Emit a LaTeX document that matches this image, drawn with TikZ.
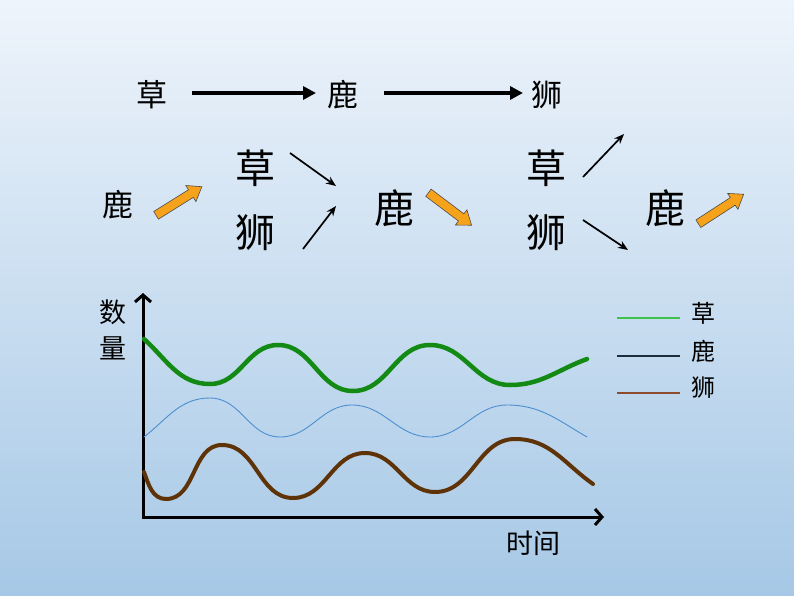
\documentclass[tikz,border=0pt]{standalone}
\usepackage{fontspec}
\setmainfont{Noto Sans CJK SC}
\usetikzlibrary{arrows.meta}

\definecolor{bgtop}{HTML}{EEF4FB}
\definecolor{bgmid}{HTML}{C9DDF1}
\definecolor{bgbot}{HTML}{A6C8E6}
\definecolor{grasscol}{HTML}{138A14}
\definecolor{deercol}{HTML}{4C8FD0}
\definecolor{lioncol}{HTML}{5E3308}
\definecolor{boostcol}{HTML}{F7A21B}
\definecolor{keygrass}{HTML}{3FC24A}
\definecolor{keydeer}{HTML}{1E2D3C}
\definecolor{keylion}{HTML}{8E4C2C}

% block arrow: centre, angle
\newcommand{\boostarrow}[2]{%
  \begin{scope}[shift={#1},rotate=#2]
    \filldraw[draw=black!70,fill=boostcol,line width=0.6pt,line join=miter]
      (-27,-4.5) -- (14,-4.5) -- (14,-9.5) -- (27,0) -- (14,9.5) -- (14,4.5)
      -- (-27,4.5) -- cycle;
  \end{scope}}

\begin{document}
\begin{tikzpicture}[x=1pt,y=-1pt,
    word/.style={inner sep=0pt,font=\fontsize{31}{31}\selectfont},
    bigword/.style={inner sep=0pt,font=\fontsize{40}{40}\selectfont},
    keyword/.style={inner sep=0pt,font=\fontsize{24}{24}\selectfont},
    chain/.style={line width=4pt,-{Triangle[length=13pt,width=13pt]}},
    tilt/.style={line width=1.7pt,-{Stealth[length=10pt,width=8pt]}},
    curve/.style={line cap=round}]
  \shade[top color=bgtop,middle color=bgmid,bottom color=bgbot]
    (0,0) rectangle (794,596);

  % food chain
  \node[word] (g1) at (152,95) {草};
  \node[word] (d1) at (343,95) {鹿};
  \node[word] (l1) at (547,95) {狮};
  \draw[chain] (g1) ++(40,-2) coordinate (c1) -- (316,93) coordinate (c2);
  \draw[chain] (384,93) coordinate (c3) -- (523,93) coordinate (c4);

  % deer goes up
  \node[word] (d2) at (118,205) {鹿};
  \boostarrow{(179,201)}{32}
  \node[bigword] (g2) at (255,168) {草};
  \node[bigword] (l2) at (255,233) {狮};
  \coordinate (t1) at (290,153);
  \coordinate (t2) at (336,186);
  \coordinate (t3) at (303,249);
  \coordinate (t4) at (336,206);
  \draw[tilt] (t1) -- (t2);
  \draw[tilt] (t3) -- (t4);
  \node[bigword] (d3) at (394,208) {鹿};
  \boostarrow{(450,209)}{-37}
  \node[bigword] (g3) at (546,168) {草};
  \node[bigword] (l3) at (546,233) {狮};
  \coordinate (t5) at (583,177);
  \coordinate (t6) at (624,134);
  \coordinate (t7) at (583,220);
  \coordinate (t8) at (628,250);
  \draw[tilt] (t5) -- (t6);
  \draw[tilt] (t7) -- (t8);
  \node[bigword] (d4) at (665,208) {鹿};
  \boostarrow{(721,209)}{33}

  % axes
  \coordinate (O) at (143,517);
  \coordinate (ytip) at (143,293);
  \coordinate (xtip) at (604,517);
  \draw[line width=3pt,{Straight Barb[length=7pt,width=16pt]}-{Straight Barb[length=7pt,width=16pt]}]
    (ytip) -- (O) -- (xtip);
  \node[word,font=\fontsize{27}{27}\selectfont] (ylab1) at (113,312) {数};
  \node[word,font=\fontsize{27}{27}\selectfont] (ylab2) at (113,348) {量};
  \node[word,font=\fontsize{27}{27}\selectfont] (xlab) at (533,543) {时间};

  % curves
  \draw[curve,grasscol,line width=4.5pt] (144,339) to[out=-42,in=180] (210,384)
    to[out=0,in=180] (278,345) to[out=0,in=180] (353,391)
    to[out=0,in=180] (430,345) to[out=0,in=180] (510,385)
    to[out=0,in=200] (587,359);
  \draw[curve,deercol,line width=0.9pt] (144,437) to[out=38,in=180] (210,398)
    to[out=0,in=180] (280,437) to[out=0,in=180] (352,405)
    to[out=0,in=180] (430,437) to[out=0,in=180] (507,405)
    to[out=0,in=150] (587,437);
  \draw[curve,lioncol,line width=4pt] (144,472) to[out=-70,in=180] (166,499)
    to[out=0,in=180] (222,445) to[out=0,in=180] (293,498)
    to[out=0,in=180] (365,453) to[out=0,in=180] (435,492)
    to[out=0,in=180] (515,439) to[out=0,in=145] (593,484);

  % key
  \draw[keygrass,line width=1.4pt] (617,318) -- (680,318);
  \draw[keydeer,line width=1.4pt] (617,356) -- (680,356);
  \draw[keylion,line width=1.8pt] (617,393) -- (680,393);
  \node[keyword] (k1) at (703,313) {草};
  \node[keyword] (k2) at (703,351) {鹿};
  \node[keyword] (k3) at (703,388) {狮};
\end{tikzpicture}
\end{document}
